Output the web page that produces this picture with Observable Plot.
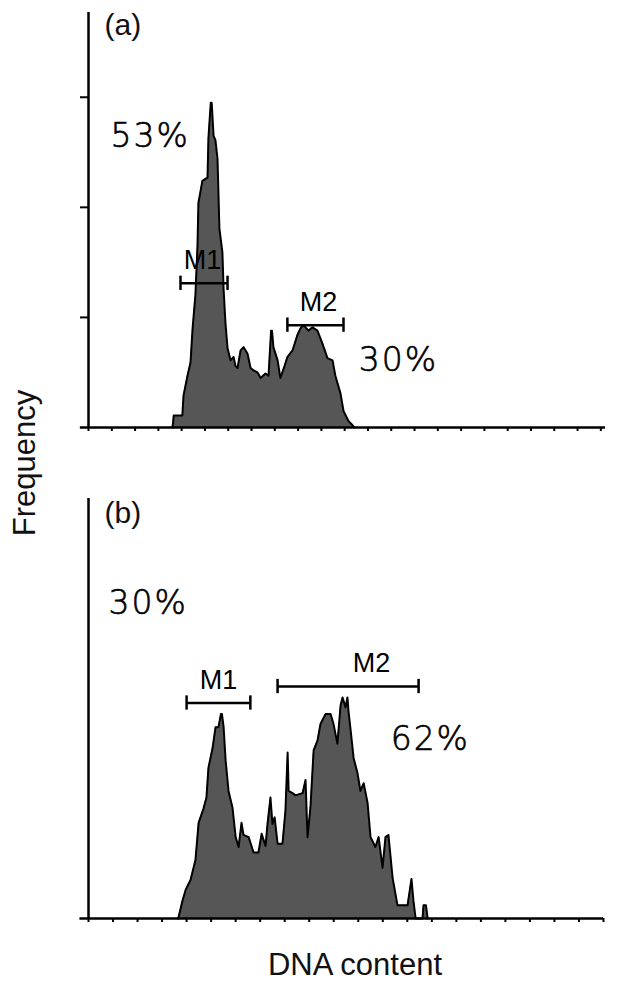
<!DOCTYPE html>
<html><head><meta charset="utf-8">
<script src="https://cdn.jsdelivr.net/npm/d3@7"></script>
<script src="https://cdn.jsdelivr.net/npm/@observablehq/plot@0.6"></script>
<style>
body{margin:0;background:#fff;}
#wrap{position:relative;width:621px;height:992px;font-family:"Liberation Sans",Arial,sans-serif;overflow:hidden;}
#pa{position:absolute;left:0;top:0;}
#pb{position:absolute;left:0;top:486px;}
.ylab{position:absolute;left:25px;top:463px;transform:translate(-50%,-50%) rotate(-90deg);font-size:31px;color:#111;white-space:nowrap;}
.xlab{position:absolute;left:355px;top:965px;transform:translate(-50%,-50%);font-size:31px;color:#111;white-space:nowrap;}
</style></head>
<body>
<div id="wrap">
  <div id="pa"></div>
  <div id="pb"></div>
  <div class="ylab">Frequency</div>
  <div class="xlab">DNA content</div>
</div>
<script>
// ---- Panel (a) histogram outline (channel, count)
const topChannel = [36.0,36.3,36.6,40.3,40.8,42.5,43.8,44.7,45.9,46.8,47.2,48.9,51.1,51.5,52.5,52.9,53.7,54.5,55.4,56.2,57.5,58.0,58.8,59.7,61.0,62.3,63.1,64.0,65.3,66.6,68.3,69.6,70.8,72.6,73.9,76.0,77.3,78.4,78.8,79.4,81.2,82.4,84.2,85.4,87.6,89.7,91.0,92.3,94.5,96.2,98.3,100.5,102.6,104.8,106.0,108.2,109.5,111.6,113.4,114.2];
const topCount   = [0,4,11,11,29,47,59,90,120,165,204,224,227,263,295,295,265,261,244,181,159,126,95,72,61,64,56,54,70,73,67,54,52,50,45,49,47,88,88,73,61,45,56,64,70,84,90,93,88,91,88,76,63,61,47,31,15,6,2,0];

// ---- Panel (b) histogram outline (channel, count)
const botChannel = [36.5,36.7,38.3,39.6,41.6,43.6,44.9,46.9,48.1,48.9,50.6,51.8,53.0,54.0,54.4,55.1,55.9,57.1,58.7,60.0,61.2,62.4,63.2,65.3,67.3,69.3,70.6,72.2,73.0,74.2,75.0,75.9,77.1,79.1,80.3,81.2,81.6,83.2,84.4,87.3,88.5,89.3,90.5,91.8,93.4,94.6,96.7,98.7,99.9,101.5,102.8,103.6,104.8,105.6,106.0,106.9,108.1,109.7,110.9,112.2,113.8,115.0,117.0,118.3,119.9,121.1,122.3,124.0,126.0,130.1,131.7,132.5,133.4,136.2,136.6,137.6,138.3];
const botCount   = [0,1,16,26,35,53,87,100,110,137,155,174,174,186,186,174,144,116,101,74,65,87,76,74,60,60,77,66,86,110,86,92,68,68,98,151,116,114,112,114,126,74,101,153,162,177,186,186,177,159,194,201,192,201,189,171,146,132,116,123,105,74,65,74,46,74,76,37,12,12,36,16,0,0,12,12,0];

// ---- Gates
const gateNamesA = ["M1","M2"];
const gateStartA = [39.5, 85.4];
const gateEndA   = [59.7, 109.5];
const gateLevelA = [131, 93];
const gateLabelXA = [49, 98.8];

const gateNamesB = ["M1","M2"];
const gateStartB = [40.0, 77.1];
const gateEndB   = [66.0, 134.6];
const gateLevelB = [196, 211];
const gateLabelXB = [53, 115.4];

// ---- Percent labels
const pctTextA = ["53%","30%"];
const pctXA = [9.4, 116];
const pctYA = [264, 61];
const pctTextB = ["30%","62%"];
const pctXB = [8.2, 123.2];
const pctYB = [287, 163];

const ytickA = [100, 200, 300];
const xticksA = d3.range(0, 221, 10);
const xticksB = d3.range(0, 211, 10);

function panel({channel, count, xMax, yMax, height, marginRight, yTicks, xTicks,
                gNames, gStart, gEnd, gLevel, gLabelX, pText, pX, pY, letter, letterDy}) {
  const data = channel.map((c, i) => ({channel: c, count: count[i]}));
  const gates = gNames.map((n, i) => ({name: n, x1: gStart[i], x2: gEnd[i], y: gLevel[i], lx: gLabelX[i]}));
  const marks = [
    Plot.areaY(data, {x: "channel", y: "count", fill: "#565656"}),
    Plot.lineY(data, {x: "channel", y: "count", stroke: "#000", strokeWidth: 2}),
    Plot.ruleY([0], {x1: -3.5, x2: xMax, stroke: "#000", strokeWidth: 2.5}),
    Plot.ruleX([0], {stroke: "#000", strokeWidth: 2.5}),
    Plot.axisX({ticks: xTicks, tickSize: 4, tickFormat: () => "", strokeWidth: 2, label: null}),
    Plot.ruleY(gates, {y: "y", x1: "x1", x2: "x2", stroke: "#000", strokeWidth: 2.5}),
    Plot.ruleX(gates, {x: "x1", y1: d => d.y - 6.5, y2: d => d.y + 6.5, stroke: "#000", strokeWidth: 2.5}),
    Plot.ruleX(gates, {x: "x2", y1: d => d.y - 6.5, y2: d => d.y + 6.5, stroke: "#000", strokeWidth: 2.5}),
    Plot.text(gates, {x: "lx", y: "y", text: "name", dy: -23, fontSize: 27, fill: "#000"}),
    Plot.text(pText, {x: pX, y: pY, text: d => d, textAnchor: "start", fontSize: 33, fill: "#000",
                      stroke: "#000", strokeWidth: 0.6,
                      fontFamily: "'DejaVu Sans', sans-serif", fontWeight: 200}),
    Plot.text([letter], {frameAnchor: "top-left", dx: 16, dy: letterDy, text: d => d, textAnchor: "start", lineAnchor: "middle", fontSize: 30, fill: "#111"})
  ];
  if (yTicks) marks.push(Plot.axisY({ticks: yTicks, tickSize: 8, tickFormat: () => "", strokeWidth: 2, label: null}));
  const svg = Plot.plot({
    width: 621, height, marginLeft: 88, marginRight, marginTop: 12, marginBottom: 13,
    x: {domain: [0, xMax], axis: null},
    y: {domain: [0, yMax], axis: null},
    style: {fontFamily: "'Liberation Sans', Arial, sans-serif", overflow: "visible", background: "transparent"},
    marks
  });
  d3.select(svg).selectAll("text").filter(function() { return this.textContent.includes("%"); })
    .attr("letter-spacing", "2px");
  return svg;
}

document.getElementById("pa").appendChild(panel({
  channel: topChannel, count: topCount, xMax: 222, yMax: 377, height: 440, marginRight: 16,
  yTicks: ytickA, xTicks: xticksA,
  gNames: gateNamesA, gStart: gateStartA, gEnd: gateEndA, gLevel: gateLevelA, gLabelX: gateLabelXA,
  pText: pctTextA, pX: pctXA, pY: pctYA, letter: "(a)", letterDy: 13
}));
document.getElementById("pb").appendChild(panel({
  channel: botChannel, count: botCount, xMax: 210, yMax: 382, height: 445, marginRight: 18,
  yTicks: null, xTicks: xticksB,
  gNames: gateNamesB, gStart: gateStartB, gEnd: gateEndB, gLevel: gateLevelB, gLabelX: gateLabelXB,
  pText: pctTextB, pX: pctXB, pY: pctYB, letter: "(b)", letterDy: 15
}));
</script>
</body></html>
